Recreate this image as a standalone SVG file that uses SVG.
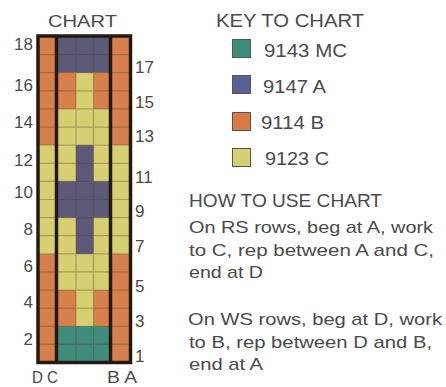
<svg xmlns="http://www.w3.org/2000/svg" width="446" height="387" viewBox="0 0 446 387">
<style>
.t{font-family:"Liberation Sans",Arial,sans-serif;fill:#4a4a4a;}
.n{font-size:17px;}
.h{font-size:18px;}
.b{font-size:17px;}
.mc{fill:#3f8c7d;}
.a{fill:#5b5977;}
.bo{fill:#d6814b;}
.c{fill:#d6d073;}
.grid{stroke:#5a3f2c;stroke-opacity:0.35;stroke-width:1.2;fill:none;}
.thick{stroke:#231812;stroke-width:3.5;fill:none;}
.ks{stroke:#555;stroke-width:1;}
</style>
<rect width="446" height="387" fill="#ffffff"/>
<g id="chart">
  <text class="t n" x="48" y="27" textLength="69" lengthAdjust="spacingAndGlyphs">CHART</text>
  <rect class="bo" x="38" y="36.5" width="18.5" height="108.67"/>
  <rect class="c" x="38" y="145.17" width="18.5" height="108.66"/>
  <rect class="bo" x="38" y="253.83" width="18.5" height="108.67"/>
  <rect class="bo" x="110.5" y="36.5" width="20" height="108.67"/>
  <rect class="c" x="110.5" y="145.17" width="20" height="108.66"/>
  <rect class="bo" x="110.5" y="253.83" width="20" height="108.67"/>
  <rect class="c" x="56.5" y="36.5" width="54" height="326"/>
  <rect class="a" x="56.5" y="36.5" width="54" height="36.22"/>
  <rect class="bo" x="56.5" y="72.72" width="19.5" height="36.22"/>
  <rect class="bo" x="93.5" y="72.72" width="17" height="36.22"/>
  <rect class="a" x="76" y="145.17" width="17.5" height="108.66"/>
  <rect class="a" x="56.5" y="181.39" width="54" height="36.22"/>
  <rect class="bo" x="56.5" y="290.06" width="19.5" height="36.22"/>
  <rect class="bo" x="93.5" y="290.06" width="17" height="36.22"/>
  <rect class="mc" x="56.5" y="326.28" width="54" height="36.22"/>
  <path class="grid" d="M38 54.61H130.5M38 72.72H130.5M38 90.83H130.5M38 108.94H130.5M38 127.06H130.5M38 145.17H130.5M38 163.28H130.5M38 181.39H130.5M38 199.5H130.5M38 217.61H130.5M38 235.72H130.5M38 253.83H130.5M38 271.94H130.5M38 290.06H130.5M38 308.17H130.5M38 326.28H130.5M38 344.39H130.5M76 36.5V362.5M93.5 36.5V362.5"/>
  <path class="thick" d="M56.5 36V363M110.5 36V363"/>
  <rect class="thick" x="38" y="36" width="92.5" height="326.5" stroke-width="3"/>
  <g class="t n" text-anchor="end">
    <text x="33" y="50">18</text>
    <text x="33" y="91">16</text>
    <text x="33" y="128">14</text>
    <text x="33" y="166">12</text>
    <text x="33" y="198">10</text>
    <text x="33" y="235">8</text>
    <text x="33" y="272">6</text>
    <text x="33" y="308">4</text>
    <text x="33" y="345">2</text>
  </g>
  <g class="t n">
    <text x="135" y="73">17</text>
    <text x="135" y="108">15</text>
    <text x="135" y="142">13</text>
    <text x="135" y="183">11</text>
    <text x="135" y="217">9</text>
    <text x="135" y="252">7</text>
    <text x="135" y="292">5</text>
    <text x="135" y="327">3</text>
    <text x="135" y="362">1</text>
  </g>
  <text class="t n" x="32" y="383" textLength="26" lengthAdjust="spacingAndGlyphs">D C</text>
  <text class="t n" x="107" y="383" textLength="30" lengthAdjust="spacingAndGlyphs">B A</text>
</g>
<g id="key">
  <text class="t h" x="216" y="27" textLength="148" lengthAdjust="spacingAndGlyphs">KEY TO CHART</text>
  <g id="key-mc">
    <rect class="mc ks" x="232.5" y="39.5" width="18" height="18"/>
    <text class="t h" x="264" y="57" textLength="83" lengthAdjust="spacingAndGlyphs">9143 MC</text>
  </g>
  <g id="key-a">
    <rect class="ks" fill="#56609a" x="232.5" y="75.5" width="18" height="18"/>
    <text class="t h" x="263" y="93" textLength="63" lengthAdjust="spacingAndGlyphs">9147 A</text>
  </g>
  <g id="key-b">
    <rect class="ks" fill="#d97a42" x="232.5" y="112.5" width="18" height="18"/>
    <text class="t h" x="261" y="129" textLength="63" lengthAdjust="spacingAndGlyphs">9114 B</text>
  </g>
  <g id="key-c">
    <rect class="c ks" x="232.5" y="148.5" width="18" height="18"/>
    <text class="t h" x="265" y="165" textLength="64" lengthAdjust="spacingAndGlyphs">9123 C</text>
  </g>
</g>
<g id="howto">
  <text class="t h" x="189" y="207" textLength="193" lengthAdjust="spacingAndGlyphs">HOW TO USE CHART</text>
  <text class="t b" x="189" y="233" textLength="244" lengthAdjust="spacingAndGlyphs">On RS rows, beg at A, work</text>
  <text class="t b" x="189" y="256" textLength="245" lengthAdjust="spacingAndGlyphs">to C, rep between A and C,</text>
  <text class="t b" x="189" y="278" textLength="74" lengthAdjust="spacingAndGlyphs">end at D</text>
  <text class="t b" x="188" y="325" textLength="254" lengthAdjust="spacingAndGlyphs">On WS rows, beg at D, work</text>
  <text class="t b" x="189" y="348" textLength="243" lengthAdjust="spacingAndGlyphs">to B, rep between D and B,</text>
  <text class="t b" x="189" y="370" textLength="74" lengthAdjust="spacingAndGlyphs">end at A</text>
</g>
</svg>
